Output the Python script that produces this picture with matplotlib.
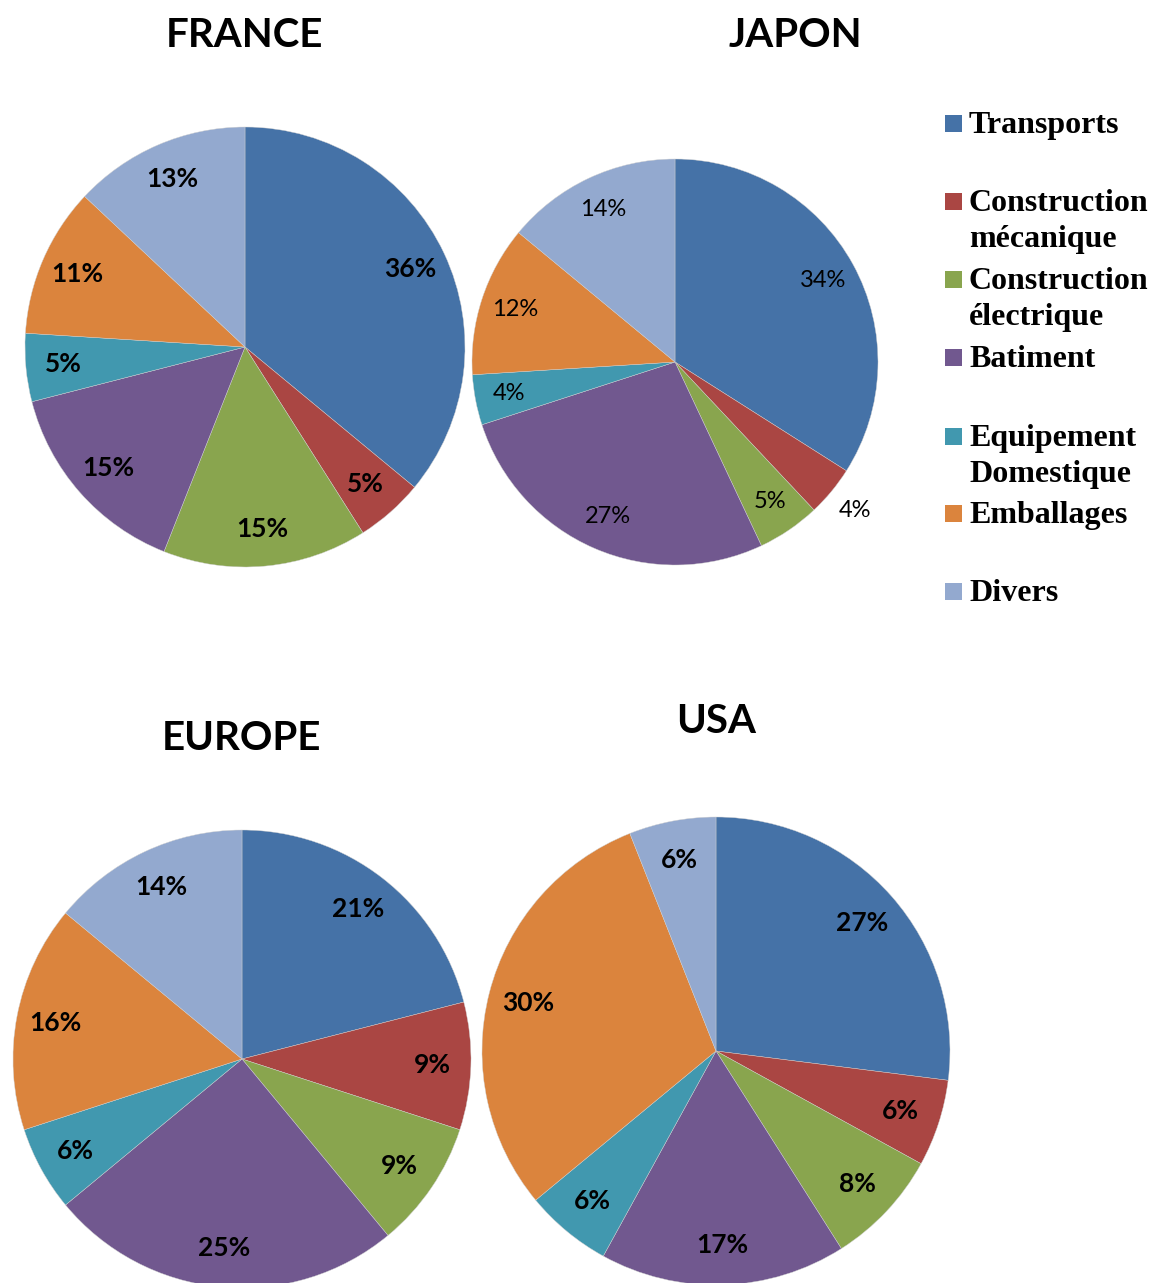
import numpy as np
import matplotlib
matplotlib.use("Agg")
import matplotlib.pyplot as plt
from matplotlib.patches import Rectangle

# sectors (legend order = slice order, clockwise from 12 o'clock)
categories = ["Transports", "Construction\nmécanique", "Construction\nélectrique",
              "Batiment", "Equipement\nDomestique", "Emballages", "Divers"]
colors = ["#4572A7", "#AA4643", "#89A54E", "#71588F", "#4198AF", "#DB843D", "#93A9CF"]

# shares in %
france = [36, 5, 15, 15, 5, 11, 13]
japon = [34, 4, 5, 27, 4, 12, 14]
europe = [21, 9, 9, 25, 6, 16, 14]
usa = [27, 6, 8, 17, 6, 30, 6]

W, H = 1157, 1283
fig = plt.figure(figsize=(W / 100, H / 100), dpi=100)

sans = ["Lato", "DejaVu Sans"]
serif = ["Liberation Serif", "DejaVu Serif"]


def px(x, y):
    return x / W, 1 - y / H


def draw_pie(values, title, cx, cy, r, tx, ty, bold=True, fs=19, outside=None):
    ax = fig.add_axes([(cx - r) / W, 1 - (cy + r) / H, 2 * r / W, 2 * r / H])
    wedges, texts, autotexts = ax.pie(
        values, colors=colors, startangle=90, counterclock=False,
        autopct="%d%%", pctdistance=0.83,
        wedgeprops=dict(edgecolor="#d0d0d0", linewidth=0.3),
        textprops=dict(fontsize=fs, family=sans,
                       fontweight="bold" if bold else "normal", color="black"))
    ax.set_xlim(-1, 1)
    ax.set_ylim(-1, 1)
    ax.set_aspect("equal")
    for w in wedges:
        w.set_clip_on(False)
    # small slice whose label sits outside the pie
    if outside is not None:
        w = wedges[outside]
        a = np.deg2rad((w.theta1 + w.theta2) / 2)
        autotexts[outside].set_position((1.15 * np.cos(a), 1.15 * np.sin(a)))
    fx, fy = px(tx, ty)
    fig.text(fx, fy, title, ha="center", va="baseline", fontsize=29,
             fontweight="bold", family=sans)


draw_pie(france, "FRANCE", 245, 347, 220, 244, 47)
draw_pie(japon, "JAPON", 675, 362, 203, 795, 47, bold=False, fs=17, outside=1)
draw_pie(europe, "EUROPE", 242, 1059, 229, 241, 750)
draw_pie(usa, "USA", 716, 1051, 234, 716, 733)

# legend, drawn by hand
leg_y = [123, 201, 279, 357, 436, 513, 591]
for cat, col, yc in zip(categories, colors, leg_y):
    x0, y0 = px(945, yc + 9)
    fig.patches.append(Rectangle((x0, y0), 17 / W, 17 / H, transform=fig.transFigure,
                                 facecolor=col, edgecolor="none"))
    for i, line in enumerate(cat.split("\n")):
        fx, fy = px(969, yc + 10 + 36 * i)
        fig.text(fx, fy, line, ha="left", va="baseline", fontsize=23,
                 fontweight="bold", family=serif)

fig.savefig("out.png", dpi=100)
